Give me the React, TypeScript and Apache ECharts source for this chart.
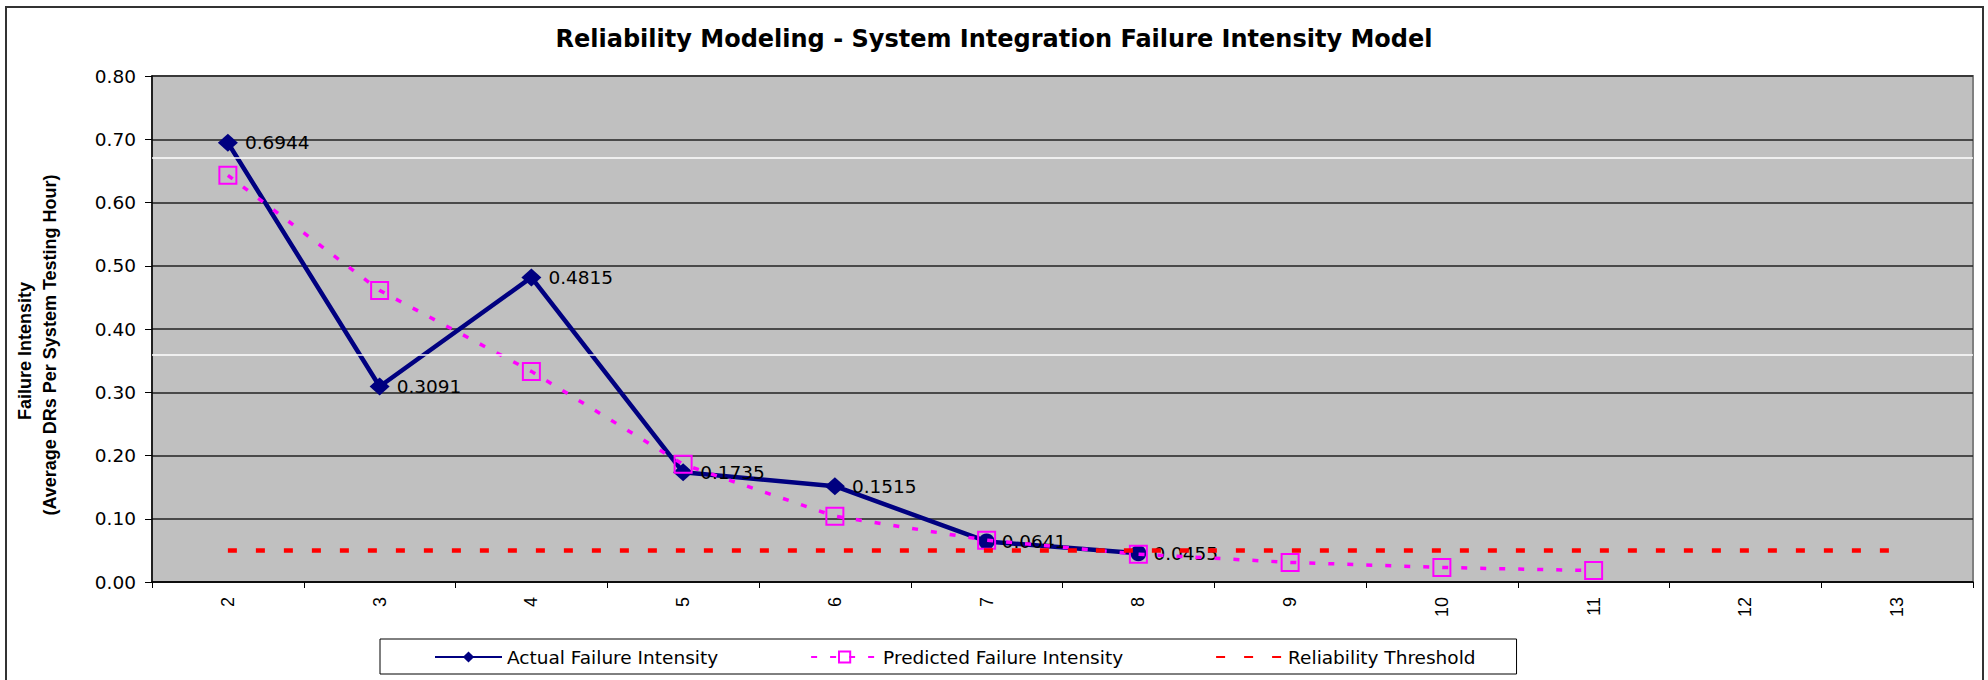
import React, { useEffect, useRef } from 'react';
import * as echarts from 'echarts';

const titleText = 'Reliability Modeling - System Integration Failure Intensity Model';
const yTitleLine1 = 'Failure Intensity';
const yTitleLine2 = '(Average DRs Per System Testing Hour)';
const categories = ['2', '3', '4', '5', '6', '7', '8', '9', '10', '11', '12', '13'];
const actualValues = [0.6944, 0.3091, 0.4815, 0.1735, 0.1515, 0.0641, 0.0455];
const predictedValues = [0.643, 0.461, 0.333, 0.186, 0.104, 0.066, 0.044, 0.031, 0.023, 0.018];
const thresholdValues = [0.05, 0.05, 0.05, 0.05, 0.05, 0.05, 0.05, 0.05, 0.05, 0.05, 0.05, 0.05];
const whiteRuleValues = [0.67, 0.357];
const seriesNames = ['Actual Failure Intensity', 'Predicted Failure Intensity', 'Reliability Threshold'];

const WIDE = '"DejaVu Sans", sans-serif';
const ARIAL = '"Liberation Sans", Arial, sans-serif';
const FS = 18.5;

export default function App() {
  const ref = useRef<HTMLDivElement>(null);
  useEffect(() => {
    const chart = echarts.init(ref.current!, null, { renderer: 'svg' });
    const actualData = actualValues.map((v, i) =>
      i >= 5 ? { value: v, symbol: 'circle', symbolSize: 16 } : { value: v }
    );
    const option: any = {
      animation: false,
      backgroundColor: '#ffffff',
      title: {
        text: titleText,
        left: 'center',
        top: 22,
        textStyle: { fontFamily: WIDE, fontWeight: 'bold', fontSize: 24, color: '#000' },
      },
      graphic: [
        {
          type: 'rect',
          shape: { x: 6, y: 7, width: 1977, height: 690 },
          style: { fill: 'none', stroke: '#333', lineWidth: 2 },
          silent: true,
        },
        {
          type: 'text',
          x: 25,
          y: 351,
          rotation: Math.PI / 2,
          style: {
            text: yTitleLine1,
            fontFamily: ARIAL,
            fontWeight: 'bold',
            fontSize: 18,
            fill: '#000',
            textAlign: 'center',
            textVerticalAlign: 'middle',
          },
        },
        {
          type: 'text',
          x: 50,
          y: 345,
          rotation: Math.PI / 2,
          style: {
            text: yTitleLine2,
            fontFamily: ARIAL,
            fontWeight: 'bold',
            fontSize: 18,
            fill: '#000',
            textAlign: 'center',
            textVerticalAlign: 'middle',
          },
        },
      ],
      legend: {
        data: [
          { name: seriesNames[0] },
          { name: seriesNames[1] },
          { name: seriesNames[2], itemStyle: { opacity: 0 } },
        ],
        left: 380,
        top: 639,
        padding: [8, 41, 7, 54],
        itemGap: 92,
        itemWidth: 67,
        itemHeight: 14,
        borderColor: '#000',
        borderWidth: 1,
        backgroundColor: '#fff',
        textStyle: { fontFamily: WIDE, fontSize: FS, color: '#000', lineHeight: 20 },
      },
      grid: {
        left: 152,
        right: 15,
        top: 76,
        bottom: 98,
        show: true,
        backgroundColor: '#C0C0C0',
        borderColor: '#808080',
        borderWidth: 2,
      },
      xAxis: {
        type: 'category',
        data: categories,
        boundaryGap: true,
        axisLine: { lineStyle: { color: '#000', width: 1.5 } },
        axisTick: { show: true, length: 6, lineStyle: { color: '#000', width: 1 } },
        axisLabel: { rotate: 90, margin: 15, fontFamily: ARIAL, fontSize: 18, color: '#000' },
        splitLine: { show: false },
      },
      yAxis: {
        type: 'value',
        min: 0,
        max: 0.8,
        interval: 0.1,
        axisLine: { show: true, lineStyle: { color: '#000', width: 1.5 } },
        axisTick: { show: true, length: 7, lineStyle: { color: '#000', width: 1 } },
        axisLabel: {
          margin: 16,
          fontFamily: WIDE,
          fontSize: FS,
          color: '#000',
          formatter: (v: number) => v.toFixed(2),
        },
        splitLine: { show: true, lineStyle: { color: '#222', width: 1.5 } },
      },
      series: [
        {
          name: seriesNames[0],
          type: 'line',
          data: actualData,
          z: 3,
          symbol: 'diamond',
          symbolSize: [20, 18],
          lineStyle: { color: '#000080', width: 4.5 },
          itemStyle: { color: '#000080' },
          label: {
            show: true,
            position: 'right',
            distance: 7,
            fontFamily: WIDE,
            fontSize: FS,
            color: '#000',
            formatter: (p: any) => Number(p.value).toFixed(4),
          },
        },
        {
          name: seriesNames[1],
          type: 'line',
          data: predictedValues,
          z: 4,
          symbol: 'rect',
          symbolSize: 17,
          lineStyle: { color: '#FF00FF', width: 3.5, type: [6, 13] },
          itemStyle: { color: 'rgba(0,0,0,0)', borderColor: '#FF00FF', borderWidth: 2 },
        },
        {
          name: seriesNames[2],
          type: 'line',
          data: thresholdValues,
          z: 5,
          symbol: 'none',
          lineStyle: { color: '#FF0000', width: 4.5, type: [9, 19] },
          itemStyle: { color: '#FF0000' },
          markLine: {
            silent: true,
            symbol: 'none',
            label: { show: false },
            lineStyle: { color: '#FFFFFF', width: 1.5, type: 'solid' },
            data: whiteRuleValues.map((v) => ({ yAxis: v })),
          },
        },
      ],
    };
    chart.setOption(option);
    return () => chart.dispose();
  }, []);
  return (
    <div
      ref={ref}
      style={{ position: 'absolute', left: 0, top: 0, width: 1988, height: 680, background: '#fff' }}
    />
  );
}
